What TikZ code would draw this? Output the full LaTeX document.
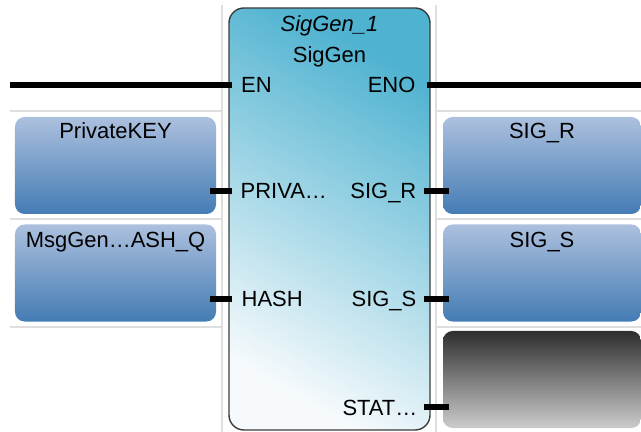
\documentclass[tikz,border=0pt]{standalone}
\usepackage{fontspec}
\setmainfont{Liberation Sans}

\definecolor{fbtop}{RGB}{78,178,208}
\definecolor{fbbot}{RGB}{246,250,252}
\definecolor{fbedge}{RGB}{60,60,60}
\definecolor{vartop}{RGB}{172,192,222}
\definecolor{varbot}{RGB}{68,124,180}
\definecolor{grid}{RGB}{222,222,222}

\begin{document}
\begin{tikzpicture}[
  fb/.style={rectangle, draw=fbedge, line width=0.8pt, rounded corners=8.5pt,
             minimum width=4.02cm, minimum height=8.44cm, inner sep=0pt,
             top color=fbtop, bottom color=fbbot, shading angle=-30},
  var/.style={rectangle, rounded corners=5.5pt, minimum width=4.02cm,
              minimum height=1.94cm, inner sep=0pt,
              top color=vartop, bottom color=varbot},
  outv/.style={var, minimum width=3.96cm},
  nil/.style={outv, top color=black!82, bottom color=black!20},
  lbl/.style={font=\fontsize{12.5}{15}\selectfont, inner sep=0pt},
  pinl/.style={lbl, anchor=base west},
  pinr/.style={lbl, anchor=base east},
  wire/.style={line width=3pt},
  sep/.style={draw=grid, line width=1.1pt}
]
  \useasboundingbox (0,0) rectangle (12.82,-8.64);
  \clip (0,0) rectangle (12.82,-8.64);

  % Grid lines
  \draw[sep] (4.44,-0.1) -- (4.44,-8.7);
  \draw[sep] (8.72,-0.1) -- (8.72,-8.7);
  \foreach \y in {-2.22,-4.38,-6.54} {
    \draw[sep] (0.2,\y) -- (4.44,\y);
    \draw[sep] (8.72,\y) -- (12.9,\y);
  }

  % Function block
  \node[fb] (sg) at (6.59,-4.38) {};
  \node[lbl, anchor=base] (inst) at (6.59,-0.64) {\itshape SigGen\_1};
  \node[lbl, anchor=base] (type) at (6.59,-1.26) {SigGen};

  % Pins
  \coordinate (en)   at (sg.west |- 0,-1.70);
  \coordinate (priv) at (sg.west |- 0,-3.82);
  \coordinate (hash) at (sg.west |- 0,-5.98);
  \coordinate (eno)  at (sg.east |- 0,-1.70);
  \coordinate (sigr) at (sg.east |- 0,-3.82);
  \coordinate (sigs) at (sg.east |- 0,-5.98);
  \coordinate (stat) at (sg.east |- 0,-8.14);

  \node[pinl] (pEn)   at ([xshift=0.25cm, yshift=-0.16cm]en)   {EN};
  \node[pinl] (pPriv) at ([xshift=0.24cm, yshift=-0.16cm]priv) {PRIVA…};
  \node[pinl] (pHash) at ([xshift=0.26cm, yshift=-0.16cm]hash) {HASH};
  \node[pinr] (pEno)  at ([xshift=-0.30cm, yshift=-0.16cm]eno)  {ENO};
  \node[pinr] (pSigr) at ([xshift=-0.28cm, yshift=-0.16cm]sigr) {SIG\_R};
  \node[pinr] (pSigs) at ([xshift=-0.28cm, yshift=-0.16cm]sigs) {SIG\_S};
  \node[pinr] (pStat) at ([xshift=-0.26cm, yshift=-0.16cm]stat) {STAT…};

  % Variables
  \node[var, label={[lbl, anchor=base, yshift=-0.44cm]north:PrivateKEY}]
    (pk) at (2.31,-3.31) {};
  \node[var, label={[lbl, anchor=base, yshift=-0.46cm]north:MsgGen…ASH\_Q}]
    (mg) at (2.31,-5.46) {};
  \node[outv, label={[lbl, anchor=base, yshift=-0.44cm]north:SIG\_R}]
    (vr) at (10.84,-3.31) {};
  \node[outv, label={[lbl, anchor=base, yshift=-0.46cm]north:SIG\_S}]
    (vs) at (10.84,-5.46) {};
  \node[nil] (vst) at (10.84,-7.59) {};

  % Wires
  \coordinate (enIn)   at (0.2,-1.70);
  \coordinate (enoOut) at (12.9,-1.70);
  \draw[wire] (enIn) -- ([xshift=0.08cm]en);
  \draw[wire] ([xshift=-0.08cm]eno) -- (enoOut);
  \draw[wire] ([xshift=-0.12cm]pk.east |- priv) -- ([xshift=0.08cm]priv);
  \draw[wire] ([xshift=-0.12cm]mg.east |- hash) -- ([xshift=0.08cm]hash);
  \draw[wire] ([xshift=-0.14cm]sigr) -- ([xshift=0.12cm]vr.west |- sigr);
  \draw[wire] ([xshift=-0.14cm]sigs) -- ([xshift=0.12cm]vs.west |- sigs);
  \draw[wire] ([xshift=-0.14cm]stat) -- ([xshift=0.12cm]vst.west |- stat);
\end{tikzpicture}
\end{document}
